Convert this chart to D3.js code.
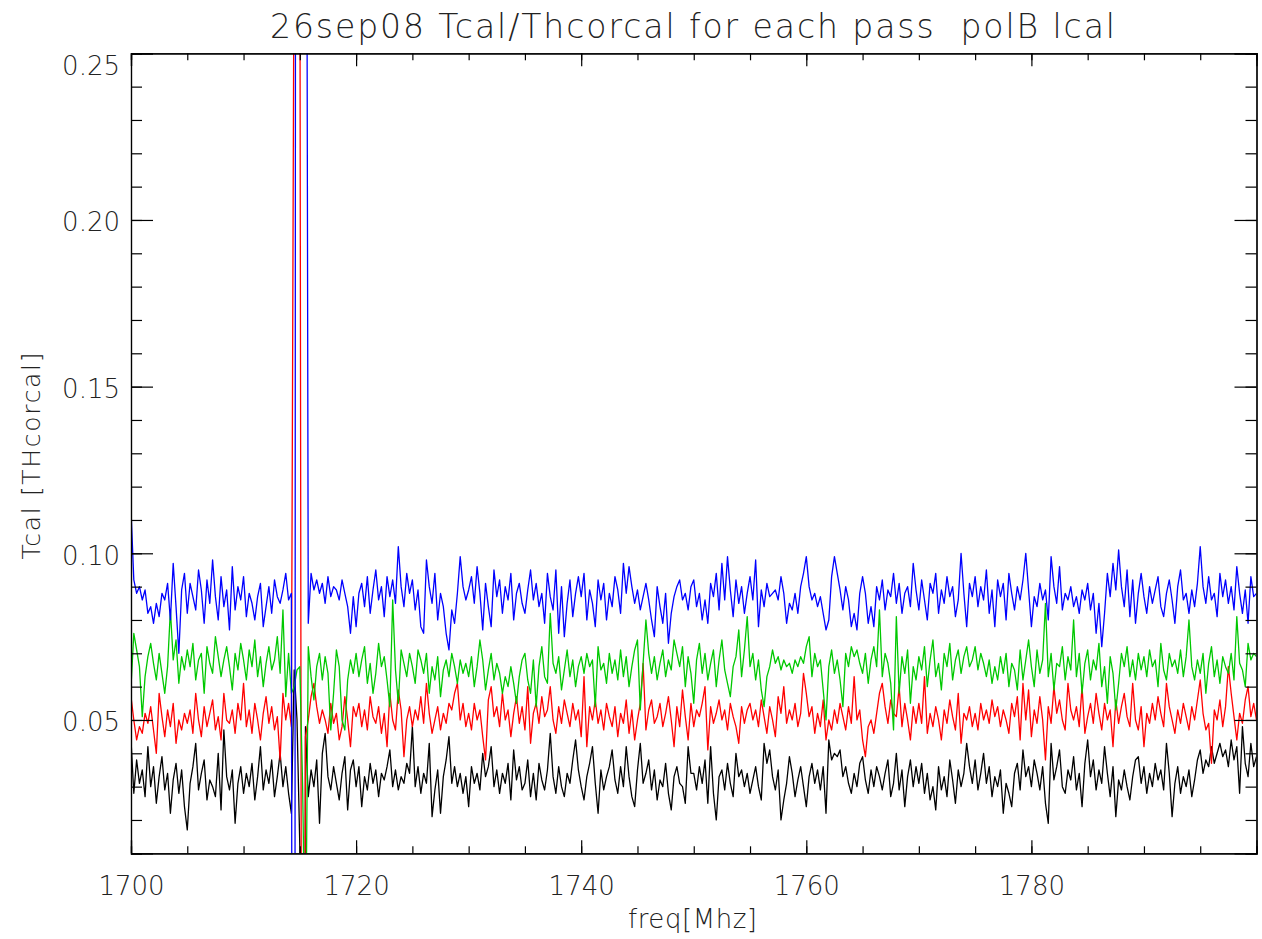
<!DOCTYPE html>
<html>
<head>
<meta charset="utf-8">
<script src="https://cdn.jsdelivr.net/npm/d3@7"></script>
<style>
  html, body { margin: 0; padding: 0; background: #fff; }
  svg { display: block; }
  text { font-family: "DejaVu Sans", "Liberation Sans", sans-serif; font-weight: 200; fill: #222; }
</style>
</head>
<body>
<svg id="chart" width="1262" height="939"></svg>
<script>
// ---- data (frequency channels: 1700 MHz, step 0.25 MHz) ----
const FREQ_START = 1700;
const FREQ_STEP = 0.25;
const xTickLabels = [1700, 1720, 1740, 1760, 1780];
const yTickLabels = [0.05, 0.10, 0.15, 0.20, 0.25];
const seriesNames = ["black", "red", "green", "blue"];

const blue = [
.113,.092,.088,.090,.086,.089,.082,.084,.079,.085,.081,.088,.086,.091,.080,.097,.084,.070,.089,.094,
.082,.091,.087,.083,.095,.089,.079,.092,.085,.098,.087,.080,.093,.084,.089,.077,.096,.083,.090,.086,
.093,.081,.088,.085,.080,.087,.091,.078,.084,.090,.082,.092,.087,.085,.089,.094,.086,.088,-.5,1.2,
1.2,1.2,.5,.079,.094,.089,.092,.088,.091,.085,.093,.087,.090,.089,.086,.092,.088,.084,.076,.087,
.078,.088,.091,.084,.093,.082,.089,.095,.086,.090,.081,.093,.087,.092,.085,.102,.090,.084,.094,.088,
.092,.083,.089,.078,.076,.098,.090,.085,.094,.080,.088,.084,.076,.071,.083,.079,.088,.099,.090,.086,
.089,.093,.085,.096,.088,.077,.091,.084,.078,.095,.087,.092,.082,.090,.086,.094,.080,.088,.091,.085,
.082,.089,.095,.086,.091,.084,.088,.079,.094,.087,.083,.095,.076,.090,.075,.085,.092,.081,.088,.093,
.087,.094,.080,.089,.085,.078,.092,.086,.091,.080,.088,.084,.093,.089,.082,.097,.088,.096,.090,.085,
.089,.083,.087,.091,.086,.080,.075,.090,.084,.079,.088,.073,.082,.087,.090,.092,.086,.088,.083,.090,
.092,.084,.088,.080,.086,.079,.091,.087,.094,.083,.097,.086,.099,.089,.081,.092,.085,.090,.082,.088,
.093,.086,.098,.078,.089,.084,.091,.087,.088,.089,.086,.093,.088,.079,.085,.083,.088,.082,.090,.094,
.099,.090,.086,.088,.084,.087,.082,.077,.080,.093,.099,.094,.089,.083,.090,.086,.078,.082,.077,.088,
.093,.088,.079,.084,.078,.090,.086,.092,.083,.089,.087,.094,.085,.091,.082,.088,.090,.084,.097,.089,
.083,.092,.086,.080,.091,.088,.094,.082,.089,.085,.093,.087,.090,.081,.086,.100,.088,.078,.091,.087,
.093,.084,.090,.086,.095,.082,.089,.078,.092,.087,.091,.080,.094,.088,.083,.090,.086,.092,.100,.089,
.078,.087,.084,.091,.086,.089,.080,.099,.090,.085,.096,.083,.088,.086,.090,.084,.087,.082,.089,.086,
.091,.083,.088,.076,.085,.072,.082,.094,.087,.097,.089,.101,.090,.084,.095,.081,.092,.079,.088,.094,
.087,.082,.090,.085,.089,.093,.084,.081,.088,.092,.086,.079,.090,.095,.086,.088,.082,.089,.084,.091,
.102,.090,.085,.093,.086,.088,.081,.094,.087,.092,.085,.090,.083,.096,.088,.082,.089,.079,.093,.087,
.088];

const green = [
.060,.076,.071,.066,.051,.063,.069,.073,.067,.062,.070,.064,.058,.066,.083,.068,.074,.061,.069,.065,
.071,.066,.073,.062,.068,.070,.058,.072,.067,.064,.075,.069,.063,.068,.072,.066,.059,.070,.065,.073,
.068,.062,.071,.066,.074,.063,.069,.060,.067,.072,.065,.068,.075,.064,.083,.057,.070,.058,.060,.065,
.066,.030,-.03,.072,.063,.056,.066,.070,.062,.069,.064,.047,.058,.071,.066,.050,.047,.062,.068,.064,
.070,.063,.068,.072,.061,.067,.058,.064,.073,.066,.069,.062,.054,.086,.065,.055,.071,.067,.063,.070,
.066,.061,.071,.068,.064,.070,.058,.066,.062,.069,.057,.065,.068,.063,.070,.066,.061,.068,.064,.067,
.063,.069,.060,.066,.074,.068,.059,.065,.070,.062,.067,.064,.058,.063,.060,.066,.061,.055,.063,.068,
.070,.062,.058,.068,.054,.066,.072,.063,.061,.082,.067,.064,.069,.059,.065,.071,.063,.068,.060,.066,
.069,.064,.070,.066,.068,.054,.072,.065,.067,.061,.070,.064,.068,.062,.071,.063,.069,.060,.066,.071,
.074,.053,.067,.080,.070,.064,.069,.062,.067,.071,.063,.068,.065,.074,.070,.066,.072,.060,.069,.064,
.055,.068,.073,.064,.070,.062,.067,.071,.060,.068,.074,.065,.061,.057,.066,.069,.077,.063,.071,.081,
.066,.070,.062,.068,.059,.054,.063,.066,.071,.067,.069,.065,.068,.066,.067,.064,.068,.066,.069,.067,
.072,.075,.063,.070,.066,.068,.059,.050,.066,.071,.064,.068,.062,.054,.070,.066,.072,.069,.071,.067,
.064,.070,.061,.068,.072,.066,.083,.063,.070,.067,.061,.047,.081,.058,.069,.064,.071,.055,.066,.062,
.069,.065,.072,.060,.068,.074,.063,.067,.059,.070,.066,.073,.062,.068,.071,.064,.069,.072,.066,.068,
.072,.065,.070,.067,.063,.068,.061,.066,.062,.069,.064,.070,.060,.067,.065,.059,.071,.062,.068,.074,
.066,.060,.071,.064,.068,.085,.063,.070,.059,.067,.066,.072,.062,.069,.065,.080,.063,.070,.058,.067,
.071,.062,.068,.065,.073,.060,.066,.055,.069,.064,.053,.061,.070,.066,.072,.063,.068,.062,.070,.065,
.069,.063,.071,.066,.068,.060,.073,.065,.062,.070,.066,.068,.064,.071,.063,.069,.080,.066,.062,.068,
.064,.070,.058,.067,.072,.063,.068,.061,.069,.066,.064,.070,.062,.081,.067,.065,.060,.073,.068,.070,
.069];

const red = [
.057,.050,.044,.048,.046,.052,.049,.054,.047,.040,.058,.051,.045,.053,.048,.055,.043,.050,.047,.052,
.049,.053,.046,.058,.050,.045,.054,.048,.052,.056,.047,.051,.044,.058,.050,.049,.053,.046,.055,.050,
.061,.048,.053,.046,.055,.050,.044,.052,.057,.049,.054,.047,.051,.038,.058,.050,.055,.048,.3,.3,
.3,-.3,.045,.050,.057,.061,.054,.049,.053,.050,.046,.055,.049,.052,.044,.048,.057,.050,.042,.054,
.051,.055,.048,.053,.047,.057,.051,.049,.054,.046,.052,.042,.058,.050,.047,.059,.053,.039,.050,.054,
.048,.053,.050,.057,.049,.061,.052,.046,.050,.054,.047,.052,.049,.055,.053,.058,.061,.050,.055,.048,
.052,.047,.055,.050,.053,.045,.038,.056,.060,.051,.054,.048,.058,.050,.053,.045,.052,.057,.049,.054,
.047,.060,.043,.052,.055,.049,.057,.051,.053,.060,.050,.046,.054,.049,.056,.052,.048,.055,.050,.053,
.045,.063,.042,.054,.050,.056,.049,.053,.047,.055,.051,.048,.054,.045,.052,.049,.056,.046,.053,.044,
.050,.055,.067,.047,.053,.056,.049,.051,.055,.048,.052,.057,.050,.042,.054,.048,.059,.051,.044,.055,
.048,.053,.051,.055,.060,.041,.054,.049,.052,.056,.050,.053,.047,.055,.051,.048,.043,.054,.049,.053,
.055,.050,.053,.048,.056,.051,.046,.054,.050,.045,.057,.052,.060,.049,.053,.050,.055,.048,.052,.064,
.058,.051,.054,.046,.052,.048,.056,.044,.050,.047,.053,.049,.055,.051,.047,.054,.049,.063,.050,.053,
.044,.039,.048,.050,.046,.052,.058,.061,.054,.049,.056,.052,.051,.060,.048,.055,.050,.044,.054,.049,
.055,.049,.063,.046,.052,.048,.054,.050,.044,.053,.049,.056,.051,.047,.058,.043,.052,.050,.054,.048,
.052,.047,.055,.050,.053,.049,.056,.051,.054,.048,.053,.050,.046,.055,.051,.057,.044,.061,.050,.059,
.045,.053,.049,.057,.050,.038,.054,.049,.060,.052,.056,.050,.047,.061,.053,.050,.054,.048,.060,.046,
.051,.055,.049,.058,.052,.047,.055,.050,.053,.042,.056,.049,.054,.058,.051,.048,.061,.050,.047,.054,
.042,.052,.049,.055,.050,.057,.052,.048,.061,.054,.050,.046,.053,.049,.055,.051,.047,.054,.050,.056,
.062,.052,.047,.049,.037,.053,.050,.056,.048,.054,.066,.058,.051,.044,.052,.049,.056,.060,.051,.055,
.050];

const black = [
.044,.028,.038,.031,.035,.027,.042,.030,.036,.025,.033,.039,.029,.034,.022,.032,.037,.028,.035,.024,
.017,.031,.036,.043,.029,.034,.038,.026,.032,.030,.027,.040,.023,.047,.033,.029,.035,.019,.031,.036,
.028,.034,.030,.037,.026,.033,.042,.029,.035,.031,.038,.027,.033,.040,.030,.036,.028,.022,.065,.050,
.012,-.5,.048,.027,.035,.030,.038,.019,.040,.046,.033,.029,.036,.031,.026,.034,.039,.023,.035,.038,
.030,.036,.024,.033,.029,.037,.031,.035,.027,.034,.032,.036,.041,.030,.035,.029,.033,.031,.037,.034,
.048,.030,.036,.028,.034,.031,.043,.021,.029,.035,.022,.033,.038,.045,.031,.036,.030,.034,.028,.033,
.024,.036,.031,.034,.029,.040,.033,.036,.042,.030,.035,.028,.034,.031,.037,.026,.041,.032,.036,.029,
.031,.038,.027,.034,.026,.037,.032,.029,.035,.046,.033,.028,.036,.030,.027,.034,.031,.038,.044,.035,
.030,.026,.033,.037,.042,.031,.022,.035,.029,.033,.036,.041,.032,.028,.036,.030,.042,.033,.027,.024,
.035,.043,.031,.034,.038,.029,.035,.026,.032,.030,.037,.028,.023,.033,.036,.031,.030,.025,.042,.034,
.034,.029,.036,.031,.038,.025,.042,.028,.020,.033,.035,.029,.037,.031,.027,.040,.033,.035,.030,.034,
.028,.032,.036,.030,.026,.043,.037,.041,.033,.029,.035,.020,.026,.031,.039,.034,.027,.032,.036,.030,
.024,.033,.037,.031,.035,.029,.036,.022,.044,.038,.040,.039,.041,.033,.036,.031,.028,.034,.030,.037,
.039,.032,.028,.035,.030,.036,.033,.029,.034,.038,.027,.031,.040,.029,.035,.024,.033,.038,.030,.036,
.031,.037,.028,.034,.026,.030,.023,.036,.029,.033,.027,.038,.032,.025,.035,.030,.034,.043,.036,.031,
.038,.029,.034,.040,.031,.036,.027,.033,.030,.035,.022,.031,.028,.024,.034,.037,.029,.041,.033,.036,
.030,.038,.034,.029,.036,.025,.019,.043,.032,.036,.041,.030,.028,.035,.032,.039,.029,.034,.024,.037,
.044,.033,.038,.029,.035,.031,.042,.034,.027,.036,.021,.032,.029,.035,.030,.026,.033,.038,.039,.031,
.036,.028,.034,.030,.037,.032,.035,.029,.043,.034,.021,.031,.036,.028,.033,.030,.035,.027,.032,.038,
.041,.034,.038,.036,.042,.037,.040,.043,.039,.041,.036,.044,.038,.042,.028,.048,.037,.033,.043,.036,
.039];

const seriesValues = { black: black, red: red, green: green, blue: blue };
const seriesColors = { black: "#000000", red: "#ff0000", green: "#00c800", blue: "#0000ff" };

// ---- layout ----
const L = 131, R = 1256.5, T = 53.3, B = 853.3;
const svg = d3.select("#chart");

const x = d3.scaleLinear().domain([1700, 1800]).range([L, R]);
const y = d3.scaleLinear().domain([0.01, 0.25]).range([B, T]);

svg.append("defs").append("clipPath").attr("id", "plotclip")
  .append("rect").attr("x", L).attr("y", T).attr("width", R - L).attr("height", B - T);

// ---- data lines ----
const line = d3.line()
  .x((d, i) => x(FREQ_START + i * FREQ_STEP))
  .y(d => y(d));

const g = svg.append("g").attr("clip-path", "url(#plotclip)");
seriesNames.forEach(name => {
  g.append("path")
    .datum(seriesValues[name])
    .attr("d", line)
    .attr("fill", "none")
    .attr("stroke", seriesColors[name])
    .attr("stroke-width", 1.3)
    .attr("stroke-linejoin", "round");
});

// ---- axes ----
const minorX = d3.range(1700, 1800.001, 5);
const minorY = d3.range(1, 25.001, 1).map(v => v / 100);

function styleAxis(sel) {
  sel.selectAll("path.domain").attr("stroke", "#000").attr("stroke-width", 1.2);
  sel.selectAll(".tick line").attr("stroke", "#000").attr("stroke-width", 1.2);
  sel.selectAll("text").attr("fill", "#222")
    .style("font-family", '"DejaVu Sans", sans-serif').style("font-weight", 200);
}

// bottom
const xb = svg.append("g").attr("transform", `translate(0,${B})`)
  .call(d3.axisBottom(x).tickValues(xTickLabels).tickSize(-13).tickPadding(23).tickFormat(d3.format("d")));
xb.selectAll("text").attr("font-size", 26);
styleAxis(xb);
const xbm = svg.append("g").attr("transform", `translate(0,${B})`)
  .call(d3.axisBottom(x).tickValues(minorX).tickSize(-7).tickFormat(""));
styleAxis(xbm);

// top
const xt = svg.append("g").attr("transform", `translate(0,${T})`)
  .call(d3.axisTop(x).tickValues(xTickLabels).tickSize(-13).tickFormat(""));
styleAxis(xt);
const xtm = svg.append("g").attr("transform", `translate(0,${T})`)
  .call(d3.axisTop(x).tickValues(minorX).tickSize(-7).tickFormat(""));
styleAxis(xtm);

// left
const yl = svg.append("g").attr("transform", `translate(${L},0)`)
  .call(d3.axisLeft(y).tickValues(yTickLabels).tickSize(-22).tickPadding(11).tickFormat(d3.format(".2f")));
yl.selectAll("text").attr("font-size", 26).attr("dy", "0.42em");
yl.selectAll(".tick").filter(d => d === 0.25).select("text").attr("dy", "0.8em");
styleAxis(yl);
const ylm = svg.append("g").attr("transform", `translate(${L},0)`)
  .call(d3.axisLeft(y).tickValues(minorY).tickSize(-11).tickFormat(""));
styleAxis(ylm);

// right
const yr = svg.append("g").attr("transform", `translate(${R},0)`)
  .call(d3.axisRight(y).tickValues(yTickLabels).tickSize(-22).tickFormat(""));
styleAxis(yr);
const yrm = svg.append("g").attr("transform", `translate(${R},0)`)
  .call(d3.axisRight(y).tickValues(minorY).tickSize(-11).tickFormat(""));
styleAxis(yrm);

// ---- titles ----
svg.append("text")
  .attr("x", 692.5).attr("y", 38)
  .attr("text-anchor", "middle")
  .attr("font-size", 33)
  .style("white-space", "pre")
  .attr("textLength", 845).attr("lengthAdjust", "spacing")
  .text("26sep08 Tcal/Thcorcal for each pass  polB lcal");

svg.append("text")
  .attr("x", 692.5).attr("y", 928)
  .attr("text-anchor", "middle")
  .attr("font-size", 26)
  .attr("textLength", 129).attr("lengthAdjust", "spacing")
  .text("freq[Mhz]");

svg.append("text")
  .attr("transform", "translate(40,456) rotate(-90)")
  .attr("text-anchor", "middle")
  .attr("font-size", 25)
  .attr("textLength", 207).attr("lengthAdjust", "spacing")
  .text("Tcal [THcorcal]");
</script>
</body>
</html>
